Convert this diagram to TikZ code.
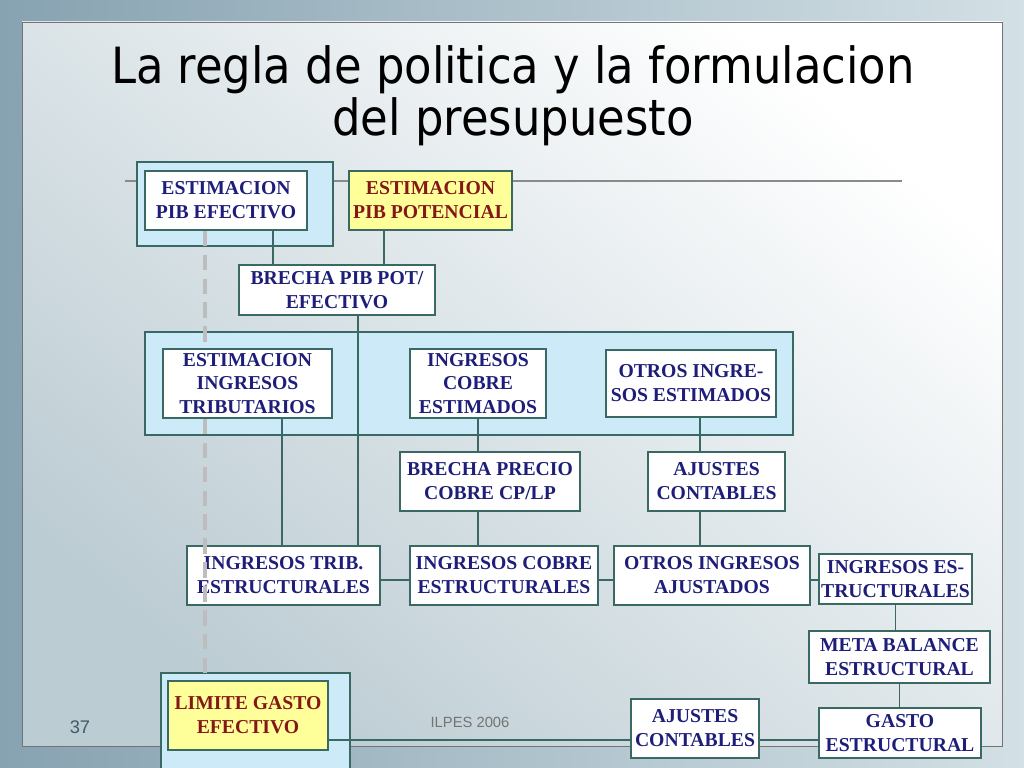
\documentclass[tikz,border=0pt]{standalone}
\usepackage{fontspec}
\setmainfont{Liberation Serif}
\newfontfamily\titlefont{DejaVu Sans Condensed}
\newfontfamily\footfont{Liberation Sans}
\usepackage{tikz}
\definecolor{PRNavy}{HTML}{1E1E7A}
\definecolor{PRRed}{HTML}{841818}
\definecolor{PRYellow}{HTML}{FFFF99}
\definecolor{PRBlue}{HTML}{CDEAF8}
\definecolor{PRLine}{HTML}{3A6964}
\definecolor{PRDash}{HTML}{BDBDBD}
\definecolor{PRRule}{HTML}{8A8A8A}
\definecolor{PRBgDark}{HTML}{87A2B1}
\definecolor{PRBgLight}{HTML}{D3E0E5}
\definecolor{PRPanel}{HTML}{BCCCD3}
\definecolor{PRFoot}{HTML}{3E5C68}

\begin{document}
\begin{tikzpicture}[x=0.025cm,y=-0.025cm,
  caja/.style={draw=PRLine,line width=1.1pt,fill=white,text=PRNavy,align=center,inner sep=0pt,font=\fontsize{14}{17}\selectfont\bfseries},
  cajapot/.style={caja,fill=PRYellow,text=PRRed},
  grupo/.style={draw=PRLine,line width=1.3pt,fill=PRBlue},
  enlace/.style={draw=PRLine,line width=1.3pt},
  guia/.style={draw=PRDash,line width=2.6pt,dash pattern=on 11pt off 6pt}]
\useasboundingbox (0,0) rectangle (1024,768);
\clip (0,0) rectangle (1024,768);
% fondo de la lamina
\shade[left color=PRBgDark,right color=PRBgLight] (0,0) rectangle (1024,768);
\shade[shading=axis,top color=white,middle color=PRPanel!30!white,bottom color=PRPanel,shading angle=-40] (22,22) rectangle (1002,746);
\draw[black!55,line width=.5pt] (22,22) rectangle (1002,746);
\draw[PRRule,line width=2pt] (125,181) -- (902,181);
% recuadros de grupo
\fill[grupo] (137,162) rectangle (333,246);
\fill[grupo] (145,332) rectangle (793,435);
\fill[grupo] (161,673) rectangle (350,775);
% ejes de los enlaces
\coordinate (cEf) at (273,0);
\coordinate (cPot) at (384,0);
\coordinate (cBr) at (358,0);
\coordinate (cTr) at (282,0);
\coordinate (cCo) at (478,0);
\coordinate (cOt) at (700,0);
\coordinate (cGu) at (205,0);
\coordinate (rFila) at (0,580);
\coordinate (rPie) at (0,740);
% cajas
\node[caja,minimum width=4.05cm,minimum height=1.475cm] (pibef) at (226,200.5) {ESTIMACION\\PIB EFECTIVO};
\node[cajapot,minimum width=4.075cm,minimum height=1.475cm] (pibpot) at (430.5,200.5) {ESTIMACION\\PIB POTENCIAL};
\node[caja,minimum width=4.9cm,minimum height=1.25cm] (brecha) at (337,290) {BRECHA PIB POT/\\EFECTIVO};
\node[caja,minimum width=4.225cm,minimum height=1.725cm] (esting) at (247.5,383.5) {ESTIMACION\\INGRESOS\\TRIBUTARIOS};
\node[caja,minimum width=3.4cm,minimum height=1.725cm] (cobest) at (478,383.5) {INGRESOS\\COBRE\\ESTIMADOS};
\node[caja,minimum width=4.25cm,minimum height=1.675cm] (otrest) at (691,383.5) {OTROS INGRE-\\SOS ESTIMADOS};
\node[caja,minimum width=4.5cm,minimum height=1.475cm] (brprec) at (490,481.5) {BRECHA PRECIO\\COBRE CP/LP};
\node[caja,minimum width=3.425cm,minimum height=1.475cm] (ajmid) at (716.5,481.5) {AJUSTES\\CONTABLES};
\node[caja,minimum width=4.825cm,minimum height=1.475cm] (ingtrib) at (283.5,575.5) {INGRESOS TRIB.\\ESTRUCTURALES};
\node[caja,minimum width=4.7cm,minimum height=1.475cm] (ingcob) at (504,575.5) {INGRESOS COBRE\\ESTRUCTURALES};
\node[caja,minimum width=4.9cm,minimum height=1.475cm] (otraj) at (712,575.5) {OTROS INGRESOS\\AJUSTADOS};
\node[caja,minimum width=3.825cm,minimum height=1.25cm] (ingest) at (895.5,579) {INGRESOS ES-\\TRUCTURALES};
\node[caja,minimum width=4.525cm,minimum height=1.3cm] (meta) at (899.5,657) {META BALANCE\\ESTRUCTURAL};
\node[caja,minimum width=4.05cm,minimum height=1.25cm] (gasto) at (900,733) {GASTO\\ESTRUCTURAL};
\node[caja,minimum width=3.2cm,minimum height=1.475cm] (ajbot) at (695,728.5) {AJUSTES\\CONTABLES};
\node[cajapot,minimum width=4cm,minimum height=1.725cm] (limite) at (248,715.5) {LIMITE GASTO\\EFECTIVO};
% enlaces
\draw[enlace] (pibef.south -| cEf) -- (brecha.north -| cEf);
\draw[enlace] (pibpot.south -| cPot) -- (brecha.north -| cPot);
\draw[enlace] (brecha.south -| cBr) -- (ingtrib.north -| cBr);
\draw[enlace] (esting.south -| cTr) -- (ingtrib.north -| cTr);
\draw[enlace] (cobest.south -| cCo) -- (brprec.north -| cCo);
\draw[enlace] (brprec.south -| cCo) -- (ingcob.north -| cCo);
\draw[enlace] (otrest.south -| cOt) -- (ajmid.north -| cOt);
\draw[enlace] (ajmid.south -| cOt) -- (otraj.north -| cOt);
\draw[enlace] (ingtrib.east |- rFila) -- (ingcob.west |- rFila);
\draw[enlace] (ingcob.east |- rFila) -- (otraj.west |- rFila);
\draw[enlace] (otraj.east |- rFila) -- (ingest.west |- rFila);
\draw[enlace] (ingest.south) -- (ingest.south |- meta.north);
\draw[enlace] (meta.south) -- (meta.south |- gasto.north);
\draw[enlace] (limite.east |- rPie) -- (ajbot.west |- rPie);
\draw[enlace] (ajbot.east |- rPie) -- (gasto.west |- rPie);
% guia discontinua
\draw[guia] (pibef.south -| cGu) -- (esting.north -| cGu);
\draw[guia] (esting.south -| cGu) -- (limite.north -| cGu);
% textos
\node[font=\titlefont\fontsize{35.5}{37}\selectfont,align=center] (titulo) at (513,96) {La regla de politica y la formulacion\\del presupuesto};
\node[font=\footfont\fontsize{13}{15}\selectfont,text=PRFoot] (pagina) at (80,727) {37};
\node[font=\footfont\fontsize{10.5}{12}\selectfont,text=black!55] (fuente) at (470,722) {ILPES 2006};
\end{tikzpicture}
\end{document}
